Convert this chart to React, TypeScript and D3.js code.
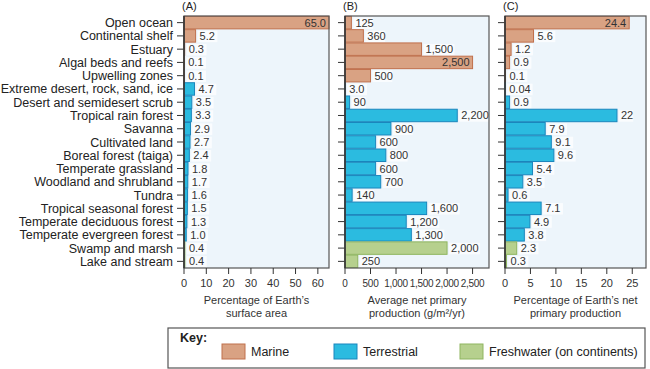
import * as d3 from "d3";

const categories = [
  "Open ocean", "Continental shelf", "Estuary", "Algal beds and reefs", "Upwelling zones",
  "Extreme desert, rock, sand, ice", "Desert and semidesert scrub", "Tropical rain forest",
  "Savanna", "Cultivated land", "Boreal forest (taiga)", "Temperate grassland",
  "Woodland and shrubland", "Tundra", "Tropical seasonal forest", "Temperate deciduous forest",
  "Temperate evergreen forest", "Swamp and marsh", "Lake and stream",
];
const kinds = [
  "marine", "marine", "marine", "marine", "marine",
  "terrestrial", "terrestrial", "terrestrial", "terrestrial", "terrestrial", "terrestrial",
  "terrestrial", "terrestrial", "terrestrial", "terrestrial", "terrestrial", "terrestrial",
  "freshwater", "freshwater",
];
const surfacePct = [65.0, 5.2, 0.3, 0.1, 0.1, 4.7, 3.5, 3.3, 2.9, 2.7, 2.4, 1.8, 1.7, 1.6, 1.5, 1.3, 1.0, 0.4, 0.4];
const avgNpp = [125, 360, 1500, 2500, 500, 3.0, 90, 2200, 900, 600, 800, 600, 700, 140, 1600, 1200, 1300, 2000, 250];
const nppPct = [24.4, 5.6, 1.2, 0.9, 0.1, 0.04, 0.9, 22, 7.9, 9.1, 9.6, 5.4, 3.5, 0.6, 7.1, 4.9, 3.8, 2.3, 0.3];

const ticksA = [0, 10, 20, 30, 40, 50, 60];
const ticksB = [0, 500, 1000, 1500, 2000, 2500];
const ticksC = [0, 5, 10, 15, 20, 25];

const legendItems = [
  { key: "marine", label: "Marine" },
  { key: "terrestrial", label: "Terrestrial" },
  { key: "freshwater", label: "Freshwater (on continents)" },
];

const fills: Record<string, string> = { marine: "#d9a283", terrestrial: "#2bbbe0", freshwater: "#b6d08e" };
const strokes: Record<string, string> = { marine: "#c0704c", terrestrial: "#1a86bd", freshwater: "#8fb560" };

const FONT = "'Liberation Sans', Arial, sans-serif";
const TOP = 16;
const BOTTOM = 268;

const y = d3.scaleBand<string>().domain(categories).range([TOP, BOTTOM]).paddingInner(0.06).paddingOuter(0.03);

type PanelProps = {
  letter: string;
  x0: number;
  x1: number;
  max: number;
  values: number[];
  ticks: number[];
  tickSize: number;
  tickSpacing?: number;
  tickFmt: (v: number) => string;
  valFmt: (v: number) => string;
  title: string[];
};

function Panel({ letter, x0, x1, max, values, ticks, tickSize, tickSpacing = 0, tickFmt, valFmt, title }: PanelProps) {
  const x = d3.scaleLinear().domain([0, max]).range([x0, x1]);
  const mid = (x0 + x1) / 2;
  return (
    <g>
      <text x={x0 - 2} y={10} fontSize={11} fill="#222">({letter})</text>
      <rect x={x0} y={TOP} width={x1 - x0} height={BOTTOM - TOP} fill="#edf5fb" />
      {categories.map((c, i) => {
        const v = values[i];
        const bw = x(v) - x0;
        const yy = y(c)!;
        const inside = v / max > 0.85;
        const label = valFmt(v);
        const tw = label.length * 5.6;
        const lx = inside ? x(v) - 3 : x(v) + 4;
        return (
          <g key={c}>
            <line x1={x0 - 7} x2={x0} y1={yy + y.bandwidth() / 2} y2={yy + y.bandwidth() / 2} stroke="#333" strokeWidth={1} />
            <rect x={x0} y={yy} width={Math.max(bw, 0)} height={y.bandwidth()}
              fill={fills[kinds[i]]} stroke={strokes[kinds[i]]} strokeWidth={1} />
            {!inside && (
              <rect x={lx - 2} y={yy + 1} width={tw + 3} height={y.bandwidth() - 1} fill="#fafcfe" />
            )}
            <text x={lx} y={yy + y.bandwidth() / 2 + 4} fontSize={11} fill="#333"
              textAnchor={inside ? "end" : "start"}>{label}</text>
          </g>
        );
      })}
      <rect x={x0} y={TOP} width={x1 - x0} height={BOTTOM - TOP} fill="none" stroke="#555" strokeWidth={1.2} />
      <line x1={x0} x2={x0} y1={TOP} y2={BOTTOM} stroke="#333" strokeWidth={1.5} />
      {ticks.map((t) => (
        <g key={t}>
          <line x1={x(t)} x2={x(t)} y1={BOTTOM} y2={BOTTOM + 6} stroke="#333" strokeWidth={1} />
          <text x={x(t)} y={BOTTOM + 19} fontSize={tickSize} letterSpacing={tickSpacing} fill="#333" textAnchor="middle">{tickFmt(t)}</text>
        </g>
      ))}
      {title.map((t, i) => (
        <text key={t} x={mid} y={304 + i * 13} fontSize={11} fill="#333" textAnchor="middle">{t}</text>
      ))}
    </g>
  );
}

export default function App() {
  const comma = d3.format(",");
  return (
    <svg width={650} height={369} style={{ position: "absolute", left: 0, top: 0 }} fontFamily={FONT}>
      <rect width={650} height={369} fill="#fff" />
      {categories.map((c) => (
        <text key={c} x={173} y={y(c)! + y.bandwidth() / 2 + 4.5} fontSize={12.5} fill="#222" textAnchor="end">{c}</text>
      ))}
      <Panel letter="A" x0={184} x1={329} max={65} values={surfacePct} ticks={ticksA} tickSize={11}
        tickFmt={(v) => String(v)} valFmt={d3.format(".1f")}
        title={["Percentage of Earth\u2019s", "surface area"]} />
      <Panel letter="B" x0={345} x1={489} max={2822} values={avgNpp} ticks={ticksB} tickSize={10} tickSpacing={-0.3}
        tickFmt={comma} valFmt={(v) => (v < 10 ? d3.format(".1f")(v) : comma(v))}
        title={["Average net primary", "production (g/m\u00b2/yr)"]} />
      <Panel letter="C" x0={505} x1={646} max={27.7} values={nppPct} ticks={ticksC} tickSize={11}
        tickFmt={(v) => String(v)} valFmt={(v) => String(v)}
        title={["Percentage of Earth\u2019s net", "primary production"]} />
      <g>
        <rect x={168} y={328} width={477} height={40} fill="#fff" stroke="#555" strokeWidth={1.2} />
        <text x={180} y={342} fontSize={12.5} fontWeight="bold" fill="#222">Key:</text>
        {legendItems.map((it, i) => {
          const lx = [222, 334, 460][i];
          return (
            <g key={it.key}>
              <rect x={lx} y={344} width={23} height={15} fill={fills[it.key]} stroke={strokes[it.key]} strokeWidth={1} />
              <text x={lx + 29} y={356} fontSize={12.5} fill="#222">{it.label}</text>
            </g>
          );
        })}
      </g>
    </svg>
  );
}
